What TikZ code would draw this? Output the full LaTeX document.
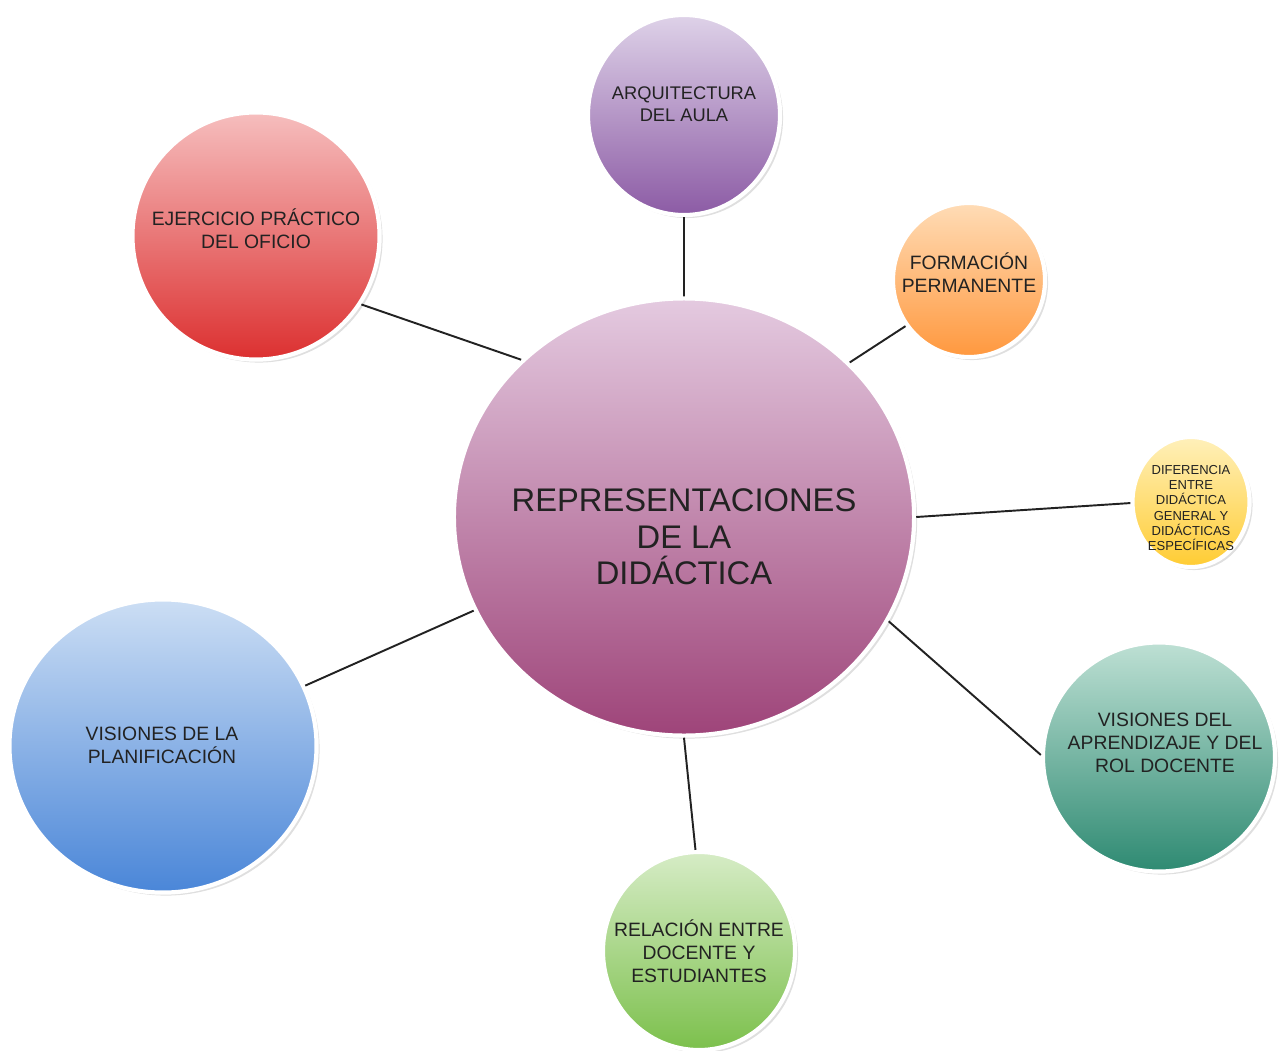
\documentclass[tikz,border=0pt]{standalone}
\usepackage{fontspec}
\setmainfont{Liberation Sans}
\usepackage{tikz}
\usetikzlibrary{shapes.geometric,shadows}
\definecolor{inkc}{HTML}{222222}
\definecolor{mainTop}{HTML}{E4CAE0}
\definecolor{mainBot}{HTML}{9E4479}
\definecolor{arqTop}{HTML}{DED2E8}
\definecolor{arqBot}{HTML}{8C5BA5}
\definecolor{formTop}{HTML}{FFDCB6}
\definecolor{formBot}{HTML}{FF983E}
\definecolor{difTop}{HTML}{FFF0BA}
\definecolor{difBot}{HTML}{FFCC33}
\definecolor{visapTop}{HTML}{BEE0D4}
\definecolor{visapBot}{HTML}{2E8A72}
\definecolor{relTop}{HTML}{D6ECC6}
\definecolor{relBot}{HTML}{7CC04C}
\definecolor{planTop}{HTML}{CCDEF4}
\definecolor{planBot}{HTML}{4A86D8}
\definecolor{ejerTop}{HTML}{F6BEBE}
\definecolor{ejerBot}{HTML}{DC3030}
\tikzset{x=0.01cm,y=-0.01cm,
  bubble/.style={ellipse,inner sep=0pt,draw=white,line width=1.2pt,
    drop shadow={shadow xshift=0.03cm,shadow yshift=-0.03cm,opacity=0.25}},
  txt/.style={align=center,text=inkc,inner sep=0pt,font=\fontsize{5.5}{6.6}\selectfont},
  link/.style={draw=inkc,line width=0.55pt}}
\begin{document}
\begin{tikzpicture}
    \useasboundingbox (0,0) rectangle (1281,1051);
    \node[bubble,minimum width=4.60cm,minimum height=4.37cm,top color=mainTop,bottom color=mainBot] (main) at (684,517) {};
    \node[bubble,minimum width=1.92cm,minimum height=2.00cm,top color=arqTop,bottom color=arqBot] (arq) at (684,115) {};
    \node[bubble,minimum width=1.52cm,minimum height=1.54cm,top color=formTop,bottom color=formBot] (form) at (969,280) {};
    \node[bubble,minimum width=1.17cm,minimum height=1.30cm,top color=difTop,bottom color=difBot] (dif) at (1191,502) {};
    \node[bubble,minimum width=2.32cm,minimum height=2.29cm,top color=visapTop,bottom color=visapBot] (visap) at (1159,757) {};
    \node[bubble,minimum width=1.92cm,minimum height=1.98cm,top color=relTop,bottom color=relBot] (rel) at (699,951) {};
    \node[bubble,minimum width=3.07cm,minimum height=2.93cm,top color=planTop,bottom color=planBot] (plan) at (163,746) {};
    \node[bubble,minimum width=2.47cm,minimum height=2.47cm,top color=ejerTop,bottom color=ejerBot] (ejer) at (256,236) {};
    \node[txt,font=\fontsize{9.3}{10.4}\selectfont] (mainlbl) at (684,537) {REPRESENTACIONES\\DE LA\\DID\'ACTICA};
    \node[txt,font=\fontsize{5.2}{6.2}\selectfont] (arqlbl) at (684,104) {ARQUITECTURA\\DEL AULA};
    \node[txt] (formlbl) at (969,273) {FORMACI\'ON\\PERMANENTE};
    \node[txt,font=\fontsize{3.7}{4.3}\selectfont] (diflbl) at (1191,508) {DIFERENCIA\\ENTRE\\DID\'ACTICA\\GENERAL Y\\DID\'ACTICAS\\ESPEC\'IFICAS};
    \node[txt] (visaplbl) at (1165,743) {VISIONES DEL\\APRENDIZAJE Y DEL\\ROL DOCENTE};
    \node[txt] (rellbl) at (699,951) {RELACI\'ON ENTRE\\DOCENTE Y\\ESTUDIANTES};
    \node[txt] (planlbl) at (162,745) {VISIONES DE LA\\PLANIFICACI\'ON};
    \node[txt] (ejerlbl) at (256,229) {EJERCICIO PR\'ACTICO\\DEL OFICIO};
    \path[link]
    (main.90) -- (arq.-90)
    (main.43) -- (form.-144)
    (main.0) -- (dif.181)
    (main.-27) -- (visap.179)
    (main.-90) -- (rel.92)
    (main.204) -- (plan.23)
    (main.136) -- (ejer.-33)
    ;
\end{tikzpicture}
\end{document}
